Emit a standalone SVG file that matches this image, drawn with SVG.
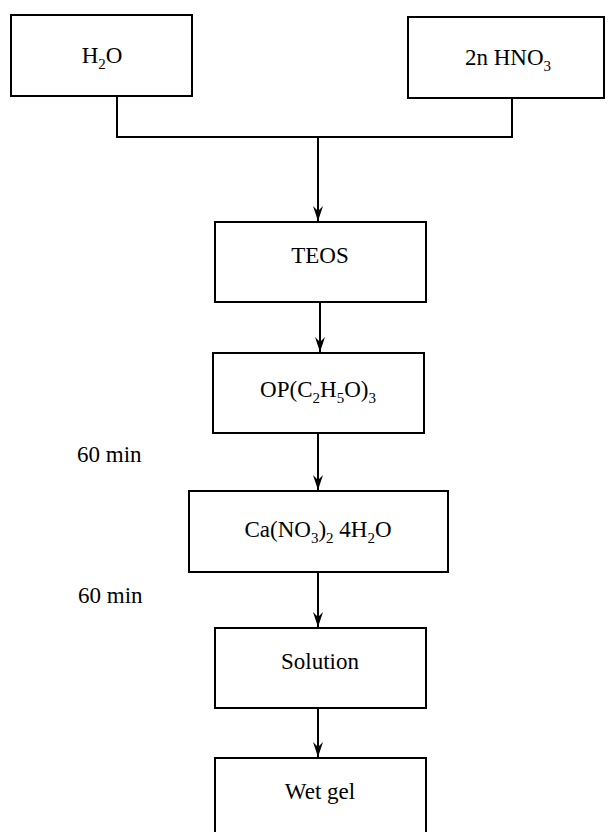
<svg xmlns="http://www.w3.org/2000/svg" width="608" height="832" viewBox="0 0 608 832">
<style>
rect.box{fill:#fff;stroke:#000;stroke-width:2}
text{font-family:"Liberation Serif","Times New Roman",serif;font-size:23px;fill:#000;text-anchor:middle}
text.lbl{text-anchor:start}
.sub{font-size:15px}
.c{fill:none;stroke:#000;stroke-width:2}
</style>
<defs>
<marker id="ah" markerWidth="16" markerHeight="10" refX="15" refY="5" orient="auto" markerUnits="userSpaceOnUse" viewBox="0 0 16 10">
<path d="M0,0 L15,5 L0,10 L5,5 Z" fill="#000"/>
</marker>
</defs>
<rect width="608" height="832" fill="#fff"/>
<g id="connectors">
<polyline class="c" points="117,96 117,137 512,137 512,98"/>
<line class="c" x1="318" y1="137" x2="318" y2="221" marker-end="url(#ah)"/>
<line class="c" x1="320" y1="302" x2="320" y2="352" marker-end="url(#ah)"/>
<line class="c" x1="318" y1="433" x2="318" y2="490" marker-end="url(#ah)"/>
<line class="c" x1="318" y1="572" x2="318" y2="627" marker-end="url(#ah)"/>
<line class="c" x1="318" y1="708" x2="318" y2="757" marker-end="url(#ah)"/>
</g>
<g id="h2o">
<rect class="box" x="11" y="15" width="181" height="81"/>
<text x="102" y="63">H<tspan class="sub" dy="6">2</tspan><tspan dy="-6">O</tspan></text>
</g>
<g id="hno3">
<rect class="box" x="408" y="17" width="196" height="81"/>
<text x="508" y="65">2n HNO<tspan class="sub" dy="6">3</tspan></text>
</g>
<g id="teos">
<rect class="box" x="215" y="222" width="211" height="80"/>
<text x="320" y="263">TEOS</text>
</g>
<g id="op">
<rect class="box" x="213" y="353" width="211" height="80"/>
<text x="318" y="397">OP(C<tspan class="sub" dy="6">2</tspan><tspan dy="-6">H</tspan><tspan class="sub" dy="6">5</tspan><tspan dy="-6">O)</tspan><tspan class="sub" dy="6">3</tspan></text>
</g>
<g id="lbl1">
<text class="lbl" x="77" y="462">60 min</text>
</g>
<g id="ca">
<rect class="box" x="189" y="491" width="259" height="81"/>
<text x="318" y="537">Ca(NO<tspan class="sub" dy="6">3</tspan><tspan dy="-6">)</tspan><tspan class="sub" dy="6">2</tspan><tspan dy="-6"> 4H</tspan><tspan class="sub" dy="6">2</tspan><tspan dy="-6">O</tspan></text>
</g>
<g id="lbl2">
<text class="lbl" x="78" y="603">60 min</text>
</g>
<g id="solution">
<rect class="box" x="215" y="628" width="211" height="80"/>
<text x="320" y="669">Solution</text>
</g>
<g id="wetgel">
<rect class="box" x="215" y="758" width="211" height="80"/>
<text x="320" y="799">Wet gel</text>
</g>
</svg>
